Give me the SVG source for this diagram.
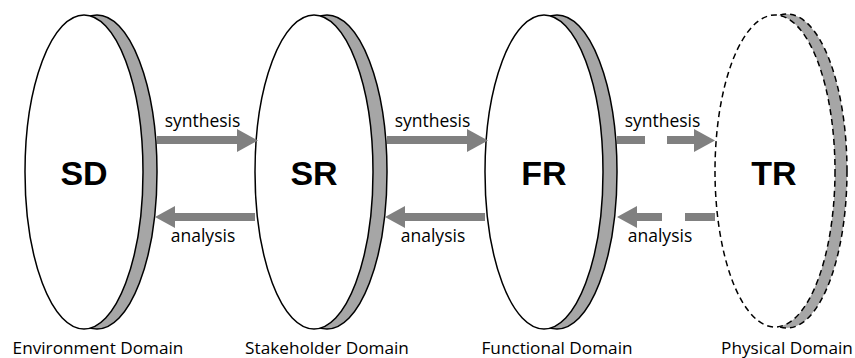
<svg xmlns="http://www.w3.org/2000/svg" width="855" height="358" viewBox="0 0 855 358">
<style>
.back{fill:#a6a6a6;stroke:#000;stroke-width:1.5}
.front{fill:#fff;stroke:#000;stroke-width:1.5}
.dash{stroke-dasharray:6 4}
.lbl{font-family:"Liberation Sans",Arial,sans-serif;font-weight:bold;font-size:34px;text-anchor:middle;fill:#000}
.dom{font-family:"Open Sans","DejaVu Sans",sans-serif;font-size:17.2px;text-anchor:middle;fill:#000}
.arl{font-family:"Open Sans","DejaVu Sans",sans-serif;font-size:17.5px;text-anchor:middle;fill:#000}
.shaft{stroke:#808080;stroke-width:8;fill:none}
.head{fill:#808080}
</style>
<rect width="855" height="358" fill="#fff"/>
<g id="SD">
<ellipse class="back" cx="97" cy="172" rx="60" ry="157"/>
<ellipse class="front" cx="84" cy="172" rx="59" ry="157"/>
<text class="lbl" x="84" y="185">SD</text>
<text class="dom" x="98" y="354">Environment Domain</text>
</g>
<g id="SR">
<ellipse class="back" cx="327" cy="172" rx="60" ry="157"/>
<ellipse class="front" cx="314" cy="172" rx="59" ry="157"/>
<text class="lbl" x="314" y="185">SR</text>
<text class="dom" x="327" y="354">Stakeholder Domain</text>
</g>
<g id="FR">
<ellipse class="back" cx="557" cy="172" rx="60" ry="157"/>
<ellipse class="front" cx="544" cy="172" rx="59" ry="157"/>
<text class="lbl" x="544" y="185">FR</text>
<text class="dom" x="557" y="354">Functional Domain</text>
</g>
<g id="TR">
<ellipse class="back dash" cx="787" cy="171" rx="60" ry="157"/>
<ellipse class="front dash" cx="775" cy="171" rx="60" ry="156"/>
<text class="lbl" x="774" y="185">TR</text>
<text class="dom" x="787" y="354">Physical Domain</text>
</g>
<g id="connectors">
<line class="shaft" x1="157" y1="140" x2="238" y2="140"/>
<polygon class="head" points="237,129 258,140.5 237,152"/>
<text class="arl" x="202.5" y="127">synthesis</text>
<line class="shaft" x1="174" y1="217" x2="255" y2="217"/>
<polygon class="head" points="175,206 155,217 175,228"/>
<text class="arl" x="203" y="242">analysis</text>

<line class="shaft" x1="387" y1="140" x2="468" y2="140"/>
<polygon class="head" points="467,129 488,140.5 467,152"/>
<text class="arl" x="432.5" y="127">synthesis</text>
<line class="shaft" x1="404" y1="217" x2="485" y2="217"/>
<polygon class="head" points="405,206 385,217 405,228"/>
<text class="arl" x="433" y="242">analysis</text>

<line class="shaft" x1="617" y1="140" x2="645" y2="140"/>
<line class="shaft" x1="667" y1="140" x2="695" y2="140"/>
<polygon class="head" points="694,129 715,140.5 694,152"/>
<text class="arl" x="662.5" y="127">synthesis</text>
<line class="shaft" x1="685" y1="217" x2="715" y2="217"/>
<line class="shaft" x1="636" y1="217" x2="662" y2="217"/>
<polygon class="head" points="637,206 617,217 637,228"/>
<text class="arl" x="660" y="242">analysis</text>
</g>
</svg>
